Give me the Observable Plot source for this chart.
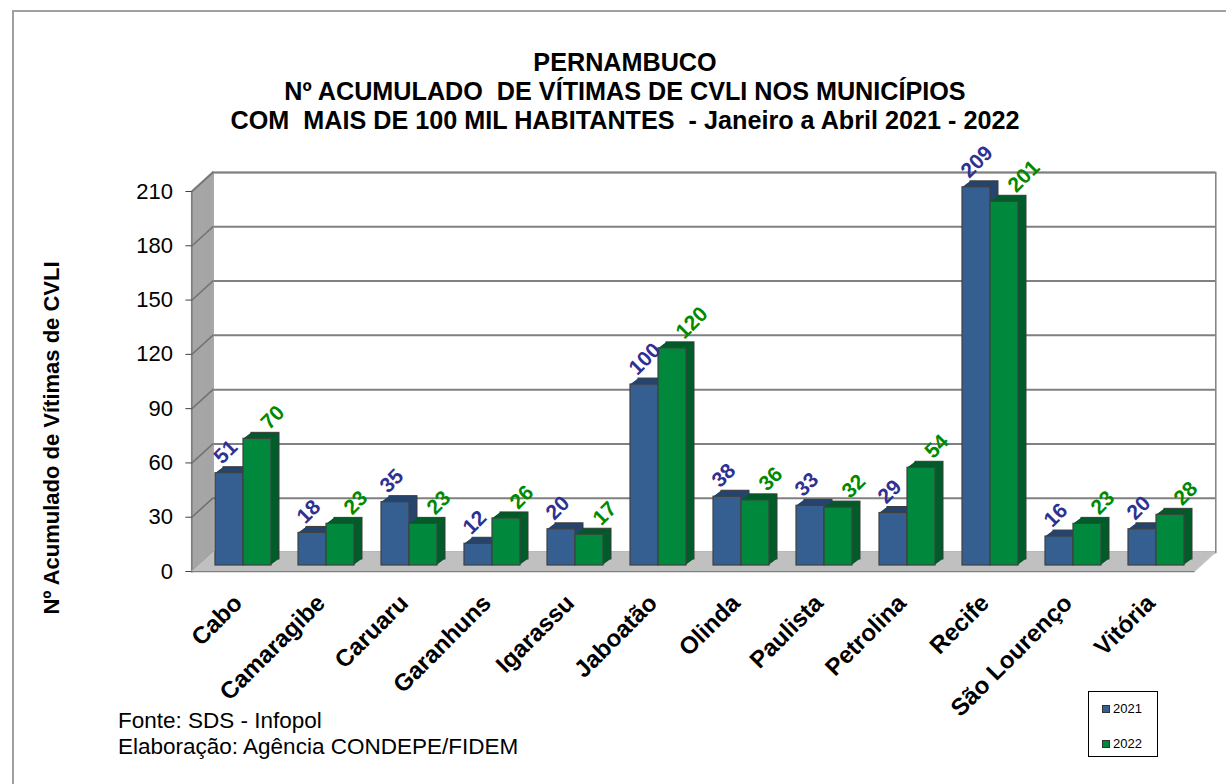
<!DOCTYPE html>
<html>
<head>
<meta charset="utf-8">
<script src="https://cdn.jsdelivr.net/npm/d3@7"></script>
<script src="https://cdn.jsdelivr.net/npm/@observablehq/plot@0.6"></script>
<style>
  body { margin: 0; background: #fff; }
  #wrap { position: relative; width: 1226px; height: 784px; overflow: hidden; font-family: "Liberation Sans", Arial, sans-serif; }
  #wrap svg { position: absolute; left: 0; top: 0; }
  .border { position: absolute; left: 12px; top: 10px; width: 1240px; height: 800px; border-left: 2px solid #a0a0a0; border-top: 2px solid #a0a0a0; }
  .title { position: absolute; left: 0; width: 1250px; top: 48px; text-align: center; font-weight: bold; font-size: 25.2px; line-height: 29px; white-space: pre; color: #000; }
  .ytitle { position: absolute; left: 52px; top: 438px; transform: translate(-50%, -50%) rotate(-90deg); font-weight: bold; font-size: 22px; white-space: pre; color: #000; }
  .foot { position: absolute; left: 118px; top: 708px; font-size: 22.5px; line-height: 26px; color: #000; white-space: pre; }
  .legend { position: absolute; left: 1088px; top: 691px; width: 68px; height: 64px; border: 1.5px solid #000; font-size: 13px; }
  .legend .item { position: absolute; left: 13px; display: flex; align-items: center; }
  .legend .sw { width: 6px; height: 6px; border: 1px solid #333; margin-right: 3px; }
</style>
</head>
<body>
<div id="wrap">
  <div class="border"></div>
</div>
<script>
// ---- data ----
const cities = ["Cabo","Camaragibe","Caruaru","Garanhuns","Igarassu","Jaboatão","Olinda","Paulista","Petrolina","Recife","São Lourenço","Vitória"];
const values2021 = [51,18,35,12,20,100,38,33,29,209,16,20];
const values2022 = [70,23,23,26,17,120,36,32,54,201,23,28];
const seriesNames = ["2021","2022"];
const yTicks = [0,30,60,90,120,150,180,210];
const titleLines = ["PERNAMBUCO","Nº ACUMULADO  DE VÍTIMAS DE CVLI NOS MUNICÍPIOS","COM  MAIS DE 100 MIL HABITANTES  - Janeiro a Abril 2021 - 2022"];
const yTitle = "Nº Acumulado de Vítimas de CVLI";
const footLines = ["Fonte: SDS - Infopol","Elaboração: Agência CONDEPE/FIDEM"];

// ---- layout / style ----
const W = 1226, H = 784, mL = 198, mR = 25, mT = 185, mB = 219;
const padInner = 0.33;
const step = (W - mL - mR) / cities.length;
const bw = step * (1 - padInner);
const colors = {
  front: ["#365f91", "#00883c"],
  depth: ["#25456d", "#005c29"],
  label: ["#2e3192", "#008a00"]
};
const depth = 8;            // bar depth in px
const backDy = -13, frontDy = 6, slope = 1.1;

const rows = [values2021, values2022].map(vals => cities.map((c, i) => ({city: c, value: vals[i]})));

const marks = [];
// back wall
marks.push(Plot.frame({stroke: "#808080", strokeWidth: 1.5, dx: -backDy * slope, dy: backDy}));
marks.push(Plot.ruleY(yTicks, {stroke: "#808080", strokeWidth: 2, dx: -backDy * slope, dy: backDy}));
// left wall (extruded)
for (let k = backDy; k <= frontDy; k++) {
  marks.push(Plot.frame({anchor: "left", stroke: "#a6a6a6", strokeWidth: 2, dx: -k * slope, dy: k}));
}
// grid lines running across the left wall
for (let k = backDy; k <= frontDy; k++) {
  marks.push(Plot.dot(yTicks, {y: d => d, frameAnchor: "left", r: 0.9, fill: "#6e6e6e", stroke: "none", dx: -k * slope, dy: k}));
}
marks.push(Plot.frame({anchor: "left", stroke: "#707070", strokeWidth: 1.2, dx: -frontDy * slope, dy: frontDy}));
// floor (extruded)
for (let k = backDy; k <= frontDy; k++) {
  marks.push(Plot.ruleY([0], {stroke: "#c0c0c0", strokeWidth: 2, dx: -k * slope, dy: k}));
}
marks.push(Plot.ruleY([0], {stroke: "#808080", strokeWidth: 1.2, dx: -frontDy * slope, dy: frontDy}));

// bars
rows.forEach((data, s) => {
  const inset = s === 0 ? {insetRight: bw / 2} : {insetLeft: bw / 2};
  for (let i = depth; i >= 1; i--) {
    marks.push(Plot.barY(data, {x: "city", y: "value", ...inset, fill: colors.depth[s],
      stroke: i === depth ? "#3a3a3a" : "none", strokeWidth: 1, dx: i, dy: -i * 0.75}));
  }
  marks.push(Plot.barY(data, {x: "city", y: "value", ...inset, fill: colors.front[s], stroke: "#404040", strokeWidth: 1.2}));
});

// value labels
rows.forEach((data, s) => {
  marks.push(Plot.text(data, {x: "city", y: "value", text: d => String(d.value),
    dx: s === 0 ? -26 : 21, dy: -13, rotate: -45, textAnchor: "start", lineAnchor: "middle",
    fill: colors.label[s], fontSize: 21, fontWeight: "bold"}));
});

// category labels
marks.push(Plot.text(cities, {x: d => d, frameAnchor: "bottom", dx: -12, dy: 27, rotate: -45,
  textAnchor: "end", lineAnchor: "top", fontSize: 24, fontWeight: "bold", fill: "#000"}));

// y axis on the front plane
marks.push(Plot.axisY(yTicks, {tickSize: 6, tickPadding: 13, dx: -frontDy * slope, dy: frontDy, fontSize: 22, label: null, stroke: "#404040", fill: "#000"}));

const chart = Plot.plot({
  width: W, height: H,
  marginLeft: mL, marginRight: mR, marginTop: mT, marginBottom: mB,
  style: {fontFamily: "'Liberation Sans', Arial, sans-serif", background: "transparent", overflow: "visible"},
  x: {type: "band", domain: cities, paddingInner: padInner, paddingOuter: padInner / 2, axis: null},
  y: {domain: [0, 210]},
  marks
});

const wrap = document.getElementById("wrap");
wrap.appendChild(chart);

const t = document.createElement("div");
t.className = "title";
t.textContent = titleLines.join("\n");
wrap.appendChild(t);

const yt = document.createElement("div");
yt.className = "ytitle";
yt.textContent = yTitle;
wrap.appendChild(yt);

const f = document.createElement("div");
f.className = "foot";
f.textContent = footLines.join("\n");
wrap.appendChild(f);

const lg = document.createElement("div");
lg.className = "legend";
seriesNames.forEach((n, s) => {
  const it = document.createElement("div");
  it.className = "item";
  it.style.top = (s === 0 ? 9 : 44) + "px";
  const sw = document.createElement("div");
  sw.className = "sw";
  sw.style.background = colors.front[s];
  it.appendChild(sw);
  const tx = document.createElement("span");
  tx.textContent = n;
  it.appendChild(tx);
  lg.appendChild(it);
});
wrap.appendChild(lg);
</script>
</body>
</html>
